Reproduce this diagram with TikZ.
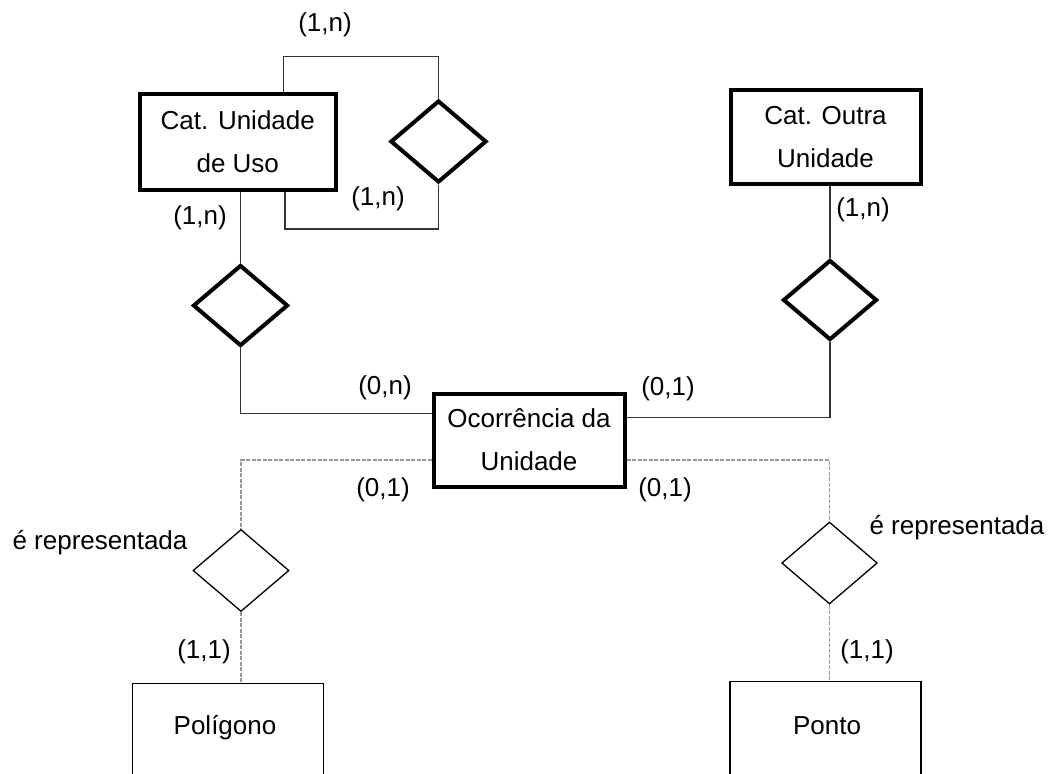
\documentclass[tikz,border=0pt]{standalone}
\usepackage{fontspec}
\setmainfont{Liberation Sans}
\usetikzlibrary{shapes.geometric}
\begin{document}
\begin{tikzpicture}[x=1pt,y=-1pt,
  every node/.style={font=\fontsize{26}{43}\selectfont, inner sep=0pt, align=center},
  strongent/.style={draw, rectangle, line width=4pt},
  weakent/.style={draw, rectangle, line width=1.4pt},
  strongrel/.style={draw, diamond, line width=4pt},
  weakrel/.style={draw, diamond, line width=1.3pt},
  link/.style={line width=1.2pt, draw=black!80},
  spatial/.style={line width=1.2pt, draw=black!40, dash pattern=on 4pt off 1.5pt},
  card/.style={}
]
\useasboundingbox (0,0) rectangle (1050,774);
\clip (0,0) rectangle (1050,774);

% entities
\node[strongent, minimum width=196, minimum height=96] (cu) at (237.8,141.7) {Cat. Unidade\\de Uso};
\node[strongent, minimum width=190, minimum height=94] (co) at (825.5,137) {Cat. Outra\\Unidade};
\node[strongent, minimum width=191, minimum height=93] (oc) at (529,440) {Ocorrência da\\Unidade};
\node[weakent, minimum width=191, minimum height=140, anchor=north] (poly) at (227.8,683) {};
\node[weakent, minimum width=191, minimum height=140, anchor=north] (pont) at (825.5,681) {};
\node (polytxt) at (225,728) {Polígono};
\node (ponttxt) at (827,726) {Ponto};

% relationships
\node[strongrel, minimum width=96, minimum height=82] (rs) at (438.5,141.5) {};
\node[strongrel, minimum width=95, minimum height=81] (d1) at (240.5,305.5) {};
\node[strongrel, minimum width=94, minimum height=80] (d2) at (830,300) {};
\node[weakrel, minimum width=96, minimum height=82] (d3) at (241,570.5) {};
\node[weakrel, minimum width=95.6, minimum height=82] (d4) at (829.5,563) {};

% connectors
\draw[link] (283.5,0 |- cu.north) -- (283.5,56.7) -| (rs.north);
\draw[link] (285,0 |- cu.south) -- (285,229) -| (rs.south);
\draw[link] (d1.north |- cu.south) -- (d1.north);
\draw[link] (d1.south) |- ([yshift=26.7pt]oc.west);
\draw[link] (d2.north |- co.south) -- (d2.north);
\draw[link] (d2.south) |- ([yshift=22.3pt]oc.east);
\draw[spatial] ([yshift=-20pt]oc.west) -| (d3.north);
\draw[spatial] ([yshift=-20pt]oc.east) -| (d4.north);
\draw[spatial] (d3.south) -- (d3.south |- poly.north);
\draw[spatial] (d4.south) -- (d4.south |- pont.north);

% cardinalities and role names
\node[card] (c1) at (325,25) {(1,n)};
\node[card] (c2) at (378,199) {(1,n)};
\node[card] (c3) at (200,218) {(1,n)};
\node[card] (c4) at (863,210) {(1,n)};
\node[card] (c5) at (385,388) {(0,n)};
\node[card] (c6) at (668,389) {(0,1)};
\node[card] (c7) at (383,490) {(0,1)};
\node[card] (c8) at (665,490) {(0,1)};
\node[card] (c9) at (204,652) {(1,1)};
\node[card] (c10) at (867,652) {(1,1)};
\node (r1) at (100,543) {é representada};
\node (r2) at (957,528) {é representada};
\end{tikzpicture}
\end{document}
